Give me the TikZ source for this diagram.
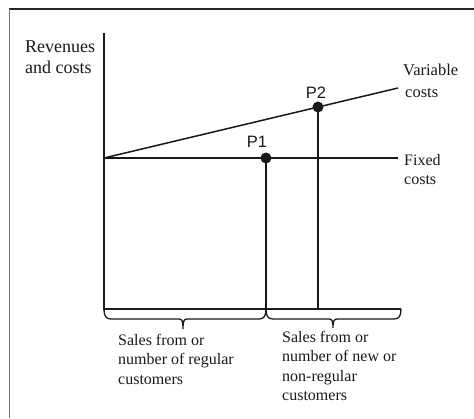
\documentclass[tikz,border=0pt]{standalone}
\usepackage{fontspec}
\setmainfont{Liberation Serif}
\newfontfamily\labsans{Liberation Sans}
\begin{document}
\begin{tikzpicture}[x=1pt,y=-1pt,
  axis/.style={line width=2.2pt, line join=miter, black!90},
  costline/.style={line width=1.5pt, black!90},
  fixline/.style={line width=2.4pt, black!90},
  thinline/.style={line width=1.3pt, black!90},
  brace/.style={line width=1.3pt, black!90},
  lab/.style={inner sep=0pt, anchor=north west, align=left, text=black!90, font=\fontsize{16}{19.5}\selectfont},
  dot/.style={circle, fill=black!90, inner sep=0pt, minimum size=11pt},
  plab/.style={font=\labsans\fontsize{16.5}{18}\selectfont, text=black!90, inner sep=0pt, anchor=base}]
\useasboundingbox (0,0) rectangle (474,418);
% frame (cropped)
\draw[line width=1.5pt, black!85] (9,9) -- (474,9);
\draw[line width=1.3pt, black!55] (9.5,9) -- (9.5,418);
% coordinates
\coordinate (ytop) at (104,33);
\coordinate (orig) at (104,309);
\coordinate (xend) at (401,309);
\coordinate (O) at (104,158);
\coordinate (Fend) at (398,158);
\coordinate (Vend) at (398,88);
% axes
\draw[axis] (ytop) -- (orig) -- (xend);
% cost lines
\draw[costline] (O) -- (Vend);
\draw[fixline] (O) -- (Fend);
% points
\node[dot] (P1) at (266,158) {};
\node[dot] (P2) at (318,107) {};
\draw[thinline] (P1.center) -- (P1.center |- orig);
\draw[thinline] (P2.center) -- (P2.center |- orig);
\node[plab] (p1l) at (257,147) {P1};
\node[plab] (p2l) at (316,98) {P2};
% braces
\draw[brace] (104,309) .. controls (104,316) and (106,319) .. (111,319) -- (179,319)
  .. controls (182,319) and (183,321) .. (183,329)
  .. controls (183,321) and (184,319) .. (187,319) -- (259,319)
  .. controls (264,319) and (266,316) .. (266,309);
\draw[brace] (266,309) .. controls (266,316) and (268,319) .. (273,319) -- (329,319)
  .. controls (332,319) and (333,321) .. (333,328)
  .. controls (333,321) and (334,319) .. (337,319) -- (394,319)
  .. controls (399,319) and (401,316) .. (401,309);
% labels
\node[lab, font=\fontsize{18}{21}\selectfont] (ylab) at (25,41) {Revenues\\and costs};
\node[lab, font=\fontsize{16.5}{21.5}\selectfont] (vlab) at (403,64) {Variable\\\hspace*{2pt}costs};
\node[lab] (flab) at (404,154) {Fixed\\costs};
\node[lab] (slab1) at (118,334) {Sales from or\\number of regular\\customers};
\node[lab] (slab2) at (282,331) {Sales from or\\number of new or\\non-regular\\customers};
\end{tikzpicture}
\end{document}
